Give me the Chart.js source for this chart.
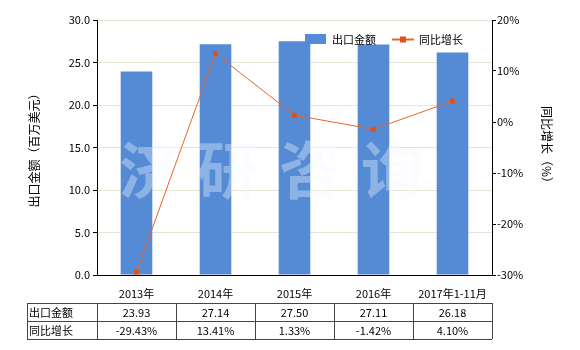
<!DOCTYPE html>
<html>
<head>
<meta charset="utf-8">
<script src="https://cdn.jsdelivr.net/npm/chart.js@4"></script>
<style>
  html, body { margin: 0; padding: 0; background: #fff; }
  #wrap { position: relative; width: 580px; height: 350px; }
</style>
</head>
<body>
<div id="wrap"><canvas id="c" width="580" height="350"></canvas></div>
<script>
// Data
const categories = ['2013年', '2014年', '2015年', '2016年', '2017年1-11月'];
const exportValue = [23.93, 27.14, 27.50, 27.11, 26.18];
const growthRate = [-29.43, 13.41, 1.33, -1.42, 4.10];
const exportLabels = ['23.93', '27.14', '27.50', '27.11', '26.18'];
const growthLabels = ['-29.43%', '13.41%', '1.33%', '-1.42%', '4.10%'];
const seriesNames = ['出口金额', '同比增长'];

const FONT = '"Noto Sans CJK SC", "DejaVu Sans", sans-serif';
const BAR_COLOR = '#558bd5';
const LINE_COLOR = '#e8642a';
const MARK_COLOR = '#d9541a';

// watermark between bars and line
const watermark = {
    id: 'watermark',
    afterDatasetDraw(chart, args) {
        if (args.index !== 0) return;
        const ctx = chart.ctx;
        ctx.save();
        ctx.fillStyle = 'rgba(240,246,255,0.36)';
        ctx.font = 'bold 62px ' + FONT;
        ctx.textAlign = 'center';
        ctx.textBaseline = 'middle';
        const chars = ['济', '研', '咨', '询'];
        const xs = [150, 228, 310, 392];
        chars.forEach((ch, i) => ctx.fillText(ch, xs[i], 170));
        ctx.restore();
    }
};

// legend and data table drawn under/around the plot
const extras = {
    id: 'extras',
    afterDraw(chart) {
        const ctx = chart.ctx;
        const x = chart.scales.x;
        ctx.save();
        ctx.font = '11px ' + FONT;
        ctx.fillStyle = '#000';
        ctx.textBaseline = 'middle';

        // legend
        ctx.fillStyle = BAR_COLOR;
        ctx.fillRect(305, 34, 21, 10);
        ctx.fillStyle = '#000';
        ctx.textAlign = 'left';
        ctx.fillText(seriesNames[0], 332, 40);
        ctx.strokeStyle = LINE_COLOR;
        ctx.lineWidth = 2;
        ctx.beginPath();
        ctx.moveTo(392, 39.5);
        ctx.lineTo(414, 39.5);
        ctx.stroke();
        ctx.fillStyle = MARK_COLOR;
        ctx.fillRect(400, 36.5, 6, 6);
        ctx.fillStyle = '#000';
        ctx.fillText(seriesNames[1], 419, 40);

        // table
        const left = 27, top = 303, rowH = 18;
        const step = (x.right - x.left) / categories.length;
        ctx.strokeStyle = '#444';
        ctx.lineWidth = 1;
        ctx.beginPath();
        for (let r = 0; r <= 2; r++) {
            ctx.moveTo(left, top + r * rowH + 0.5);
            ctx.lineTo(x.right, top + r * rowH + 0.5);
        }
        ctx.moveTo(left + 0.5, top);
        ctx.lineTo(left + 0.5, top + 2 * rowH);
        for (let i = 0; i <= categories.length; i++) {
            const cx = Math.round(x.left + i * step) + 0.5;
            ctx.moveTo(cx, top);
            ctx.lineTo(cx, top + 2 * rowH);
        }
        ctx.stroke();

        ctx.textAlign = 'left';
        ctx.fillText(seriesNames[0], left + 2, top + rowH / 2 + 1);
        ctx.fillText(seriesNames[1], left + 2, top + rowH * 1.5 + 1);
        ctx.textAlign = 'center';
        categories.forEach((c, i) => {
            const cx = x.getPixelForValue(i);
            ctx.fillText(exportLabels[i], cx, top + rowH / 2 + 1);
            ctx.fillText(growthLabels[i], cx, top + rowH * 1.5 + 1);
        });
        ctx.restore();
    }
};

new Chart(document.getElementById('c'), {
    type: 'bar',
    data: {
        labels: categories,
        datasets: [{
            label: seriesNames[0],
            data: exportValue,
            backgroundColor: BAR_COLOR,
            yAxisID: 'y',
            barPercentage: 0.4,
            categoryPercentage: 1,
            order: 1
        }, {
            type: 'line',
            label: seriesNames[1],
            data: growthRate,
            borderColor: LINE_COLOR,
            borderWidth: 1,
            backgroundColor: MARK_COLOR,
            pointStyle: 'rect',
            pointRadius: 3.5,
            pointBorderWidth: 0,
            yAxisID: 'y1',
            order: 0
        }]
    },
    options: {
        responsive: false,
        animation: false,
        layout: { padding: { top: 20, left: 0, right: 0, bottom: 45 } },
        plugins: { legend: { display: false }, tooltip: { enabled: false } },
        scales: {
            x: {
                grid: { display: false, drawTicks: true },
                border: { color: '#000' },
                ticks: { color: '#000', font: { family: FONT, size: 11 }, maxRotation: 0, padding: 4 },
                afterFit(s) { s.height = 30; }
            },
            y: {
                position: 'left',
                min: 0, max: 30,
                ticks: { stepSize: 5, color: '#000', font: { family: FONT, size: 11 },
                    callback: v => v.toFixed(1), padding: 3 },
                grid: { color: '#e6e6d6', tickColor: '#000', tickLength: 4, drawTicks: true },
                border: { color: '#000' },
                title: { display: true, text: '出口金额（百万美元）', color: '#000',
                    font: { family: FONT, size: 12 }, padding: { top: 27, bottom: 0 } },
                afterFit(s) { s.width = 97; }
            },
            y1: {
                position: 'right',
                min: -30, max: 20,
                ticks: { stepSize: 10, color: '#000', font: { family: FONT, size: 11 },
                    callback: v => v + '%', padding: 1 },
                grid: { drawOnChartArea: false, tickColor: '#000', tickLength: 4 },
                border: { color: '#000' },
                title: { display: true, text: '同比增长（%）', color: '#000',
                    font: { family: FONT, size: 12 }, padding: { top: 26, bottom: 0 } },
                afterFit(s) { s.width = 88; }
            }
        }
    },
    plugins: [watermark, extras]
});
</script>
</body>
</html>
